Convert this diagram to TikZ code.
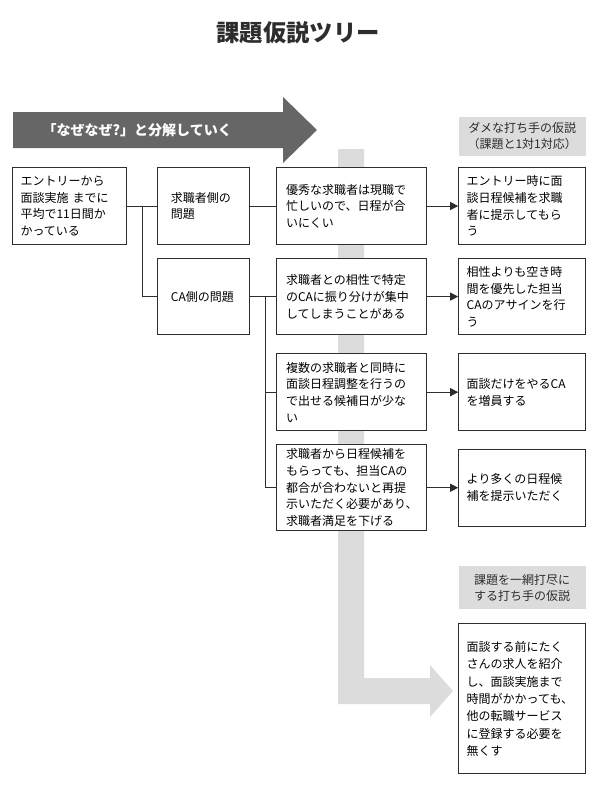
\documentclass[tikz,border=0pt]{standalone}
\usepackage{fontspec}
\setmainfont{Noto Sans CJK JP}
\usepackage{tikz}
\usetikzlibrary{arrows.meta,positioning,calc}
\definecolor{ink}{RGB}{45,45,45}
\definecolor{darkgray2}{RGB}{102,102,102}
\definecolor{lightgray2}{RGB}{220,220,220}
\tikzset{
  probbox/.style={draw=ink, line width=0.8pt, fill=white, align=left,
    inner xsep=6pt, inner ysep=2pt, font=\fontsize{9pt}{12.5pt}\selectfont},
  sidebox/.style={probbox, text width=49pt, inner xsep=10pt},
  causebox/.style={probbox, text width=98.5pt, inner xsep=7pt},
  fixbox/.style={probbox, text width=83.25pt, minimum height=57.75pt},
  hypbox/.style={fill=lightgray2, align=center, text width=95.25pt, inner xsep=0pt,
    minimum height=29.25pt, text=ink, font=\fontsize{9pt}{12pt}\selectfont},
  link/.style={draw=ink, line width=0.75pt},
  flow/.style={-{Triangle[length=6pt,width=6pt]}, draw=ink, line width=0.75pt}
}
\begin{document}
\begin{tikzpicture}[x=0.75pt, y=-0.75pt]
\path[use as bounding box, fill=white] (0,0) rectangle (600,786);

% title and the two big arrows
\node[text=ink, font=\fontsize{17.5pt}{20pt}\selectfont\bfseries] (title) at (298,33) {課題仮説ツリー};
\fill[darkgray2] (13,112) -- (283,112) -- (283,97) -- (317,130) -- (283,163) -- (283,148) -- (13,148) -- cycle;
\node[anchor=west, text=white, font=\fontsize{10.5pt}{12pt}\selectfont\bfseries] (whylabel) at (38,130) {「なぜなぜ?」と分解していく};
\fill[lightgray2] (338,149) -- (364,149) -- (364,678) -- (430,678) -- (430,665) -- (453,691) -- (430,717) -- (430,704) -- (338,704) -- cycle;

% issue tree
\node[probbox, text width=73.5pt, minimum height=57.75pt, anchor=north west] (gap) at (12,167) {エントリーから\\面談実施 までに\\平均で11日間か\\かっている};
\node[sidebox, minimum height=57.75pt, right=22.5pt of gap] (user) {求職者側の\\問題};
\node[sidebox, minimum height=57pt, below=9.75pt of user] (ca) {CA側の問題};

\node[causebox, minimum height=57.75pt, right=19.5pt of user] (busy) {優秀な求職者は現職で\\忙しいので、日程が合\\いにくい};
\node[causebox, minimum height=57pt, right=19.5pt of ca] (match) {求職者との相性で特定\\のCAに振り分けが集中\\してしまうことがある};
\node[causebox, minimum height=57.75pt, below=13.5pt of match] (multi) {複数の求職者と同時に\\面談日程調整を行うの\\で出せる候補日が少な\\い};
\node[causebox, minimum height=64.5pt, below=9.75pt of multi] (resch) {求職者から日程候補を\\もらっても、担当CAの\\都合が合わないと再提\\示いただく必要があり、\\求職者満足を下げる};

% hypotheses
\node[fixbox, right=23.25pt of busy] (applyfix) {エントリー時に面\\談日程候補を求職\\者に提示してもら\\う};
\node[fixbox, minimum height=57pt, right=23.25pt of match] (pairfix) {相性よりも空き時\\間を優先した担当\\CAのアサインを行\\う};
\node[fixbox, right=23.25pt of multi] (addca) {面談だけをやるCA\\を増員する};
\node[fixbox, right=23.25pt of resch] (morefix) {より多くの日程候\\補を提示いただく};
\node[hypbox, above=8.25pt of applyfix] (badhyp) {ダメな打ち手の仮説\\（課題と1対1対応）};
\node[hypbox, minimum height=32.25pt, below=29.25pt of morefix] (sweephyp) {課題を一網打尽に\\する打ち手の仮説};
\node[fixbox, minimum height=112.5pt, below=10.5pt of sweephyp, font=\fontsize{9pt}{13pt}\selectfont] (sweep) {面談する前にたく\\さんの求人を紹介\\し、面談実施まで\\時間がかかっても、\\他の転職サービス\\に登録する必要を\\無くす};

% connectors
\coordinate (split1) at ($(gap.east)!0.5!(user.west)$);
\coordinate (split2) at ($(ca.east)!0.58!(match.west)$);
\draw[link] (gap) -- (user);
\draw[link] (split1) |- (ca.west);
\draw[link] (user) -- (busy);
\draw[link] (ca) -- (match);
\draw[link] (split2) |- (multi.west);
\draw[link] (split2) |- (resch.west);
\draw[flow] (busy) -- (applyfix);
\draw[flow] (match) -- (pairfix);
\draw[flow] (multi) -- (addca);
\draw[flow] (resch) -- (morefix);
\end{tikzpicture}
\end{document}
